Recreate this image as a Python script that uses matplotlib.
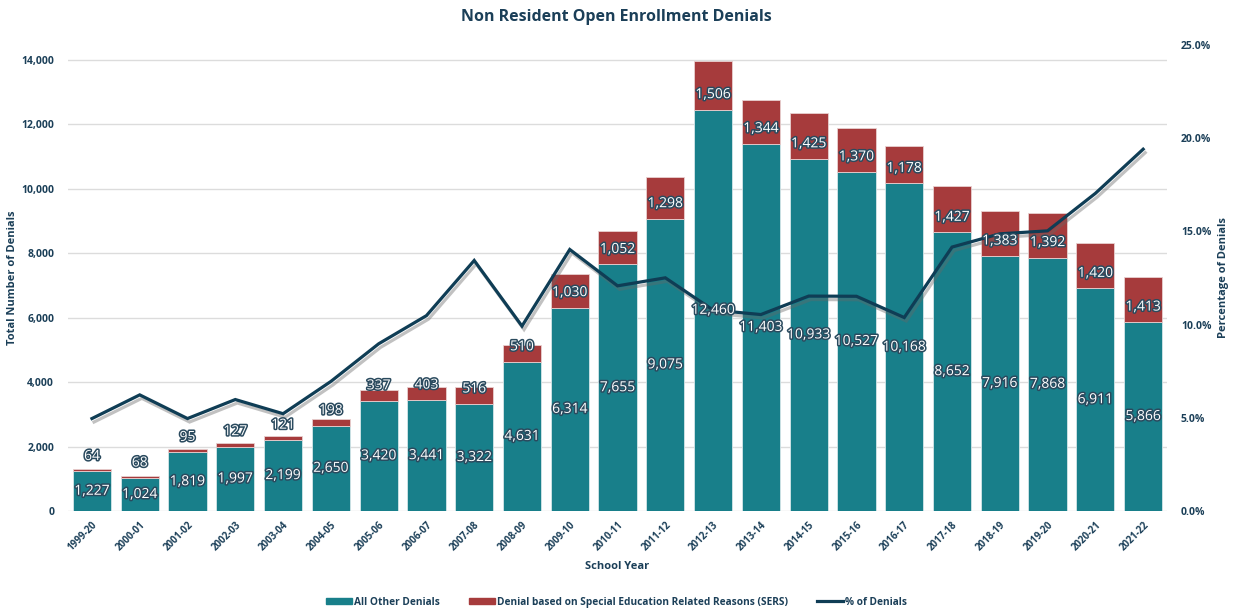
import matplotlib
matplotlib.use("Agg")
import matplotlib.pyplot as plt
import matplotlib.patheffects as pe
from matplotlib.patches import Patch
from matplotlib.lines import Line2D
from matplotlib.ticker import FuncFormatter

years = ["1999-20", "2000-01", "2001-02", "2002-03", "2003-04", "2004-05", "2005-06",
         "2006-07", "2007-08", "2008-09", "2009-10", "2010-11", "2011-12", "2012-13",
         "2013-14", "2014-15", "2015-16", "2016-17", "2017-18", "2018-19", "2019-20",
         "2020-21", "2021-22"]
other_denials = [1227, 1024, 1819, 1997, 2199, 2650, 3420, 3441, 3322, 4631, 6314, 7655,
                 9075, 12460, 11403, 10933, 10527, 10168, 8652, 7916, 7868, 6911, 5866]
sers_denials = [64, 68, 95, 127, 121, 198, 337, 403, 516, 510, 1030, 1052,
                1298, 1506, 1344, 1425, 1370, 1178, 1427, 1383, 1392, 1420, 1413]
pct_denials = [4.96, 6.23, 4.96, 5.98, 5.22, 6.95, 8.97, 10.48, 13.44, 9.92, 14.03, 12.08,
               12.51, 10.78, 10.54, 11.53, 11.52, 10.38, 14.16, 14.87, 15.03, 17.04, 19.41]

TEAL = "#187F8A"
RED = "#A63B3C"
NAVY = "#0F3D55"
TXT = "#1B3F58"
FONT = "Open Sans"

plt.rcParams["font.family"] = [FONT, "DejaVu Sans"]

fig = plt.figure(figsize=(12.33, 6.10), dpi=100)
ax = fig.add_axes([0.0552, 0.1623, 0.8913, 0.7639])

x = list(range(len(years)))
ax.bar(x, other_denials, width=0.8, color=TEAL, edgecolor="#d4e6e8", linewidth=0.6, zorder=2)
ax.bar(x, sers_denials, width=0.8, bottom=other_denials, color=RED, edgecolor="#e8d0d0",
       linewidth=0.6, zorder=2)

ax.set_xlim(-0.5, len(years) - 0.5)
ax.set_ylim(0, 14466)
ax.set_yticks(range(0, 14001, 2000))
ax.yaxis.set_major_formatter(FuncFormatter(lambda v, p: f"{int(v):,}"))
ax.grid(axis="y", color="#dcdcdc", linewidth=1.0, zorder=0)
ax.set_axisbelow(True)
for s in ax.spines.values():
    s.set_visible(False)
ax.tick_params(axis="both", length=0)
ax.tick_params(axis="y", labelsize=7.5, labelcolor=TXT, pad=10)
ax.set_xticks(x)
ax.set_xticklabels(years, rotation=45, ha="right", rotation_mode="anchor",
                   fontsize=7, fontweight="bold", color=TXT)
ax.tick_params(axis="x", pad=6)
for lab in ax.get_yticklabels():
    lab.set_fontweight("bold")
ax.set_ylabel("Total Number of Denials", fontsize=8, fontweight="bold", color=TXT)
ax.yaxis.set_label_coords(-0.046, 0.5)
ax.set_xlabel("School Year", fontsize=8, fontweight="bold", color=TXT, labelpad=6)

ax2 = ax.twinx()
ax2.set_ylim(0, 0.25)
ax2.set_yticks([0, 0.05, 0.10, 0.15, 0.20, 0.25])
ax2.yaxis.set_major_formatter(FuncFormatter(lambda v, p: f"{v*100:.1f}%"))
for s in ax2.spines.values():
    s.set_visible(False)
ax2.tick_params(axis="y", length=0, labelsize=7.5, labelcolor=TXT, pad=10)
for lab in ax2.get_yticklabels():
    lab.set_fontweight("bold")
ax2.set_ylabel("Percentage of Denials", fontsize=8, fontweight="bold", color=TXT)
ax2.yaxis.set_label_coords(1.046, 0.5)

ax2.plot(x, [p / 100 for p in pct_denials], color=NAVY, linewidth=2.3, zorder=3,
         solid_joinstyle="miter",
         path_effects=[pe.SimpleLineShadow(offset=(1.5, -2.5), shadow_color="#666666", alpha=0.4),
                       pe.Normal()])

stroke = [pe.withStroke(linewidth=2.2, foreground="#2a4a5e")]
for i in x:
    ax2.text(i, other_denials[i] / 2, f"{other_denials[i]:,}", transform=ax.transData,
             ha="center", va="center", fontsize=10, color="white", path_effects=stroke, zorder=5)
    ax2.annotate(f"{sers_denials[i]:,}", xy=(i, other_denials[i]), xycoords=ax.transData,
                 xytext=(0, 10.8), textcoords="offset points", ha="center", va="center",
                 fontsize=10, color="white", path_effects=stroke, zorder=5)

fig.text(0.5, 0.972, "Non Resident Open Enrollment Denials", ha="center", va="center",
         fontsize=11.5, fontweight="bold", color=TXT)

handles = [Patch(facecolor=TEAL, edgecolor=TEAL), Patch(facecolor=RED, edgecolor=RED),
           Line2D([0], [0], color=NAVY, linewidth=2.3)]
labels = ["All Other Denials", "Denial based on Special Education Related Reasons (SERS)",
          "% of Denials"]
leg = fig.legend(handles, labels, loc="center", bbox_to_anchor=(0.5, 0.013), ncol=3,
                 frameon=False, fontsize=7.3, handlelength=2.6, handleheight=0.6,
                 handletextpad=0.2, columnspacing=2.8)
for t in leg.get_texts():
    t.set_color(TXT)
    t.set_fontweight("bold")

fig.savefig("out.png", dpi=100)
